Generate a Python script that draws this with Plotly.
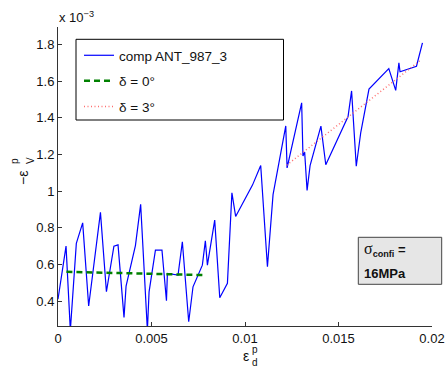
import plotly.graph_objects as go

# ---- data (y values in units of 1e-3) ----
comp_x = [0.0, 0.00043, 0.00066, 0.00098, 0.00132, 0.00164, 0.00227, 0.00259, 0.00299, 0.00321,
          0.00353, 0.00364, 0.00414, 0.00442, 0.00478, 0.00487, 0.00521, 0.00556, 0.00580, 0.00585,
          0.00642, 0.00665, 0.00699, 0.00722, 0.00772, 0.00788, 0.00799, 0.00838, 0.00865, 0.00906,
          0.00930, 0.00950, 0.01040, 0.01084, 0.01120, 0.01150, 0.01218, 0.01225, 0.01303, 0.01310,
          0.01319, 0.01332, 0.01348, 0.01406, 0.01432, 0.01551, 0.01570, 0.01595, 0.01619, 0.01663,
          0.01769, 0.01806, 0.01823, 0.01829, 0.01917, 0.01949]
comp_y = [0.41, 0.70, 0.24, 0.715, 0.827, 0.373, 0.884, 0.451, 0.700, 0.707,
          0.311, 0.482, 0.703, 0.928, 0.24, 0.45, 0.678, 0.678, 0.402, 0.551,
          0.542, 0.724, 0.287, 0.478, 0.596, 0.729, 0.596, 0.842, 0.418, 0.497,
          0.991, 0.862, 1.033, 1.140, 0.587, 0.981, 1.356, 1.127, 1.482, 1.192,
          1.214, 1.004, 1.139, 1.355, 1.144, 1.407, 1.547, 1.136, 1.320, 1.557,
          1.669, 1.550, 1.700, 1.652, 1.682, 1.809]

d0_x = [0.00045, 0.0040, 0.00775]
d0_y = [0.560, 0.552, 0.542]

d3_x = [0.01223, 0.01934]
d3_y = [1.142, 1.711]

x_ticks = [0, 0.005, 0.01, 0.015, 0.02]
x_ticktext = ["0", "0.005", "0.01", "0.015", "0.02"]
y_ticks = [0.4, 0.6, 0.8, 1.0, 1.2, 1.4, 1.6, 1.8]
y_ticktext = ["0.4", "0.6", "0.8", "1", "1.2", "1.4", "1.6", "1.8"]

W, H = 446, 369
ML, MR, MT, MB = 58, 14, 27, 43
PW, PH = W - ML - MR, H - MT - MB


def px(x):
    return (x - ML) / PW


def py(y):
    return (H - MB - y) / PH


FONT = "Liberation Sans, Arial, Helvetica, sans-serif"
TXT = "#111"

fig = go.Figure()
fig.add_trace(go.Scatter(x=comp_x, y=comp_y, mode="lines", name="comp ANT_987_3",
                         line=dict(color="#0000ff", width=1.2), legendgroup="a"))
fig.add_trace(go.Scatter(x=d0_x, y=d0_y, mode="lines", name="δ = 0°",
                         line=dict(color="#008000", width=2.5, dash="6px,4px"), legendgroup="b"))
fig.add_trace(go.Scatter(x=d3_x, y=d3_y, mode="lines", name="δ = 3°",
                         line=dict(color="rgb(255,110,110)", width=1.5, dash="1px,2.5px"), legendgroup="c"))

annotations = [
    dict(text="x 10<sup>−3</sup>", x=px(57), y=py(17), xref="paper", yref="paper",
         xanchor="left", yanchor="middle", showarrow=False, font=dict(size=13, color=TXT)),
    # y-axis label
    dict(text="−ε", x=px(23), y=py(178), xref="paper", yref="paper", textangle=-90,
         xanchor="center", yanchor="middle", showarrow=False, font=dict(size=14, color=TXT)),
    dict(text="p", x=px(14), y=py(161), xref="paper", yref="paper", textangle=-90,
         xanchor="center", yanchor="middle", showarrow=False, font=dict(size=10, color=TXT)),
    dict(text="V", x=px(30), y=py(161), xref="paper", yref="paper", textangle=-90,
         xanchor="center", yanchor="middle", showarrow=False, font=dict(size=10, color=TXT)),
    # x-axis label
    dict(text="ε", x=px(245.5), y=py(356), xref="paper", yref="paper",
         xanchor="center", yanchor="middle", showarrow=False, font=dict(size=14, color=TXT)),
    dict(text="p", x=px(255), y=py(349), xref="paper", yref="paper",
         xanchor="center", yanchor="middle", showarrow=False, font=dict(size=10, color=TXT)),
    dict(text="d", x=px(255), y=py(362), xref="paper", yref="paper",
         xanchor="center", yanchor="middle", showarrow=False, font=dict(size=10, color=TXT)),
    # sigma box text
    dict(text="<span style='font-family:Liberation Serif;font-size:16px'>σ</span>"
              "<b><sub>confi</sub> =</b>",
         x=px(362), y=py(250), xref="paper", yref="paper",
         xanchor="left", yanchor="middle", showarrow=False, font=dict(size=13, color=TXT)),
    dict(text="<b>16MPa</b>", x=px(362), y=py(273.5), xref="paper", yref="paper",
         xanchor="left", yanchor="middle", showarrow=False, font=dict(size=13, color=TXT)),
]

shapes = [
    # legend frame
    dict(type="rect", xref="paper", yref="paper", x0=px(76), x1=px(283.5), y0=py(120), y1=py(39.3),
         line=dict(color="black", width=1), fillcolor="white", layer="below"),
    # annotation box
    dict(type="rect", xref="paper", yref="paper", x0=px(358.3), x1=px(441.7), y0=py(284.3), y1=py(237.3),
         line=dict(color="#444", width=1), fillcolor="#e6e6e6", layer="above"),
]

fig.update_layout(
    width=W, height=H,
    margin=dict(l=ML, r=MR, t=MT, b=MB, autoexpand=False),
    paper_bgcolor="white", plot_bgcolor="white",
    font=dict(family=FONT, size=13, color=TXT),
    showlegend=True,
    legend=dict(x=px(79), y=py(40), xanchor="left", yanchor="top",
                bgcolor="rgba(0,0,0,0)", borderwidth=0, tracegroupgap=5,
                font=dict(size=13.5, color=TXT)),
    annotations=annotations,
    shapes=shapes,
    xaxis=dict(range=[0, 0.02], tickvals=x_ticks, ticktext=x_ticktext, ticks="inside", ticklen=4,
               tickcolor="#333", showline=True, linecolor="#333", linewidth=1, showgrid=False,
               zeroline=False, tickfont=dict(size=13), automargin=False),
    yaxis=dict(range=[0.264, 1.896], tickvals=y_ticks, ticktext=y_ticktext, ticks="inside", ticklen=4,
               tickcolor="#333", showline=True, linecolor="#333", linewidth=1, showgrid=False,
               zeroline=False, tickfont=dict(size=13), automargin=False),
)

fig.write_html("out.html", config={"displayModeBar": False},
               post_script="document.body.style.margin='0';document.body.style.padding='0';")
